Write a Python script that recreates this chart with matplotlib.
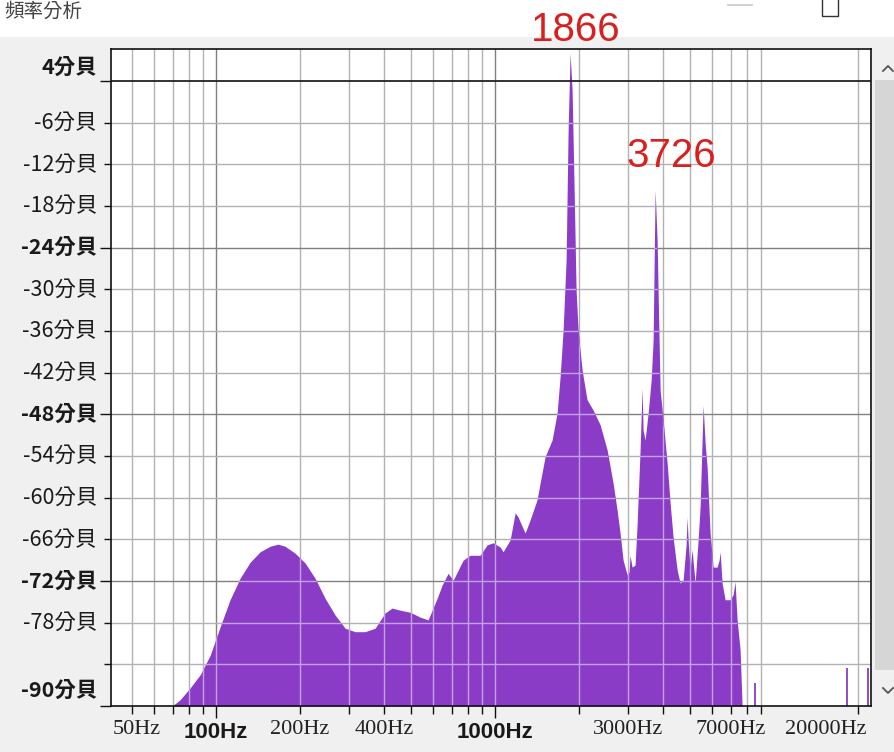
import matplotlib
matplotlib.use("Agg")
import matplotlib.pyplot as plt
import matplotlib.transforms as mtransforms
from matplotlib.patches import Rectangle
from matplotlib.lines import Line2D

# ---------------- data ----------------
freq_hz = [69.6, 74.3, 80.7, 87.7, 95.2, 103.4, 112.2, 121.9, 132.4, 143.8,
           156.1, 166.8, 176.7, 191.9, 208.4, 226.3, 245.9, 267.0, 290.0, 314.9,
           342.0, 371.4, 403.4, 427.3, 456.5, 495.8, 538.5, 575.2, 619.7, 645.7,
           678.6, 707.3, 768.1, 813.8, 883.6, 936.1, 983.6, 1042, 1068, 1132,
           1180, 1209, 1281, 1335, 1414, 1450, 1511, 1601, 1668, 1710,
           1753, 1797, 1827, 1857, 1888, 1920, 1951, 1984, 2050, 2136,
           2246, 2379, 2520, 2648, 2737, 2805, 2876, 2972, 3022, 3047,
           3097, 3175, 3228, 3309, 3365, 3393, 3449, 3536, 3625, 3685,
           3746, 3808, 3840, 3904, 4002, 4136, 4240, 4345, 4492, 4604,
           4719, 4838, 4878, 4918, 5000, 5083, 5211, 5342, 5431, 5521,
           5567, 5659, 5754, 5897, 6046, 6249, 6353, 6406, 6511, 6675,
           6955, 7129, 7248, 7369, 7554, 7680]
level_db = [-90.0, -89.1, -87.4, -85.5, -82.7, -78.6, -74.7, -71.6, -69.3, -67.8,
            -67.0, -66.7, -67.0, -68.0, -69.4, -71.6, -74.5, -76.9, -78.8, -79.3,
            -79.3, -78.8, -76.6, -75.9, -76.2, -76.5, -77.2, -77.6, -74.5, -72.6,
            -70.9, -71.9, -69.0, -68.3, -68.3, -66.8, -66.5, -67.1, -67.8, -66.1,
            -62.2, -62.8, -65.1, -63.2, -60.3, -57.9, -54.1, -51.7, -47.8, -42.6,
            -35.9, -25.8, -7.1, 4.0, -1.3, -15.7, -30.1, -35.9, -41.6, -45.9,
            -47.4, -49.5, -53.1, -57.9, -61.8, -65.1, -69.0, -71.1, -70.7, -68.3,
            -70.0, -69.7, -63.9, -53.1, -44.2, -50.3, -51.7, -47.8, -43.1, -37.3,
            -15.7, -22.9, -30.5, -44.5, -48.8, -55.0, -60.8, -65.7, -70.4, -72.3,
            -71.9, -66.8, -62.8, -66.1, -70.4, -67.5, -72.3, -66.1, -61.3, -51.7,
            -46.7, -52.1, -55.6, -65.1, -70.0, -70.0, -69.0, -67.8, -72.3, -74.7,
            -74.7, -74.0, -72.1, -77.6, -81.9, -90.0]
spike_freq = [8551, 18260, 21730]
spike_db = [-86.7, -84.5, -84.5]

peak_text = ["1866", "3726"]
peak_freq = [1866, 3726]
peak_text_db = [None, -10.7]

x_minor_ticks = [50, 60, 70, 80, 90, 200, 300, 400, 500, 600, 700, 800, 900,
                 2000, 3000, 4000, 5000, 6000, 7000, 8000, 9000, 20000]
x_major_ticks = [100, 1000]
x_plain_labels = {200: "200Hz", 400: "400Hz", 3000: "3000Hz", 7000: "7000Hz"}
x_bold_labels = {100: "100Hz", 1000: "1000Hz"}
x_left_label = "50Hz"
x_right_label = "20000Hz"

y_minor_ticks = [-6, -12, -18, -30, -36, -42, -54, -60, -66, -78, -84]
y_major_ticks = [0, -24, -48, -72, -90]
y_label_vals = [1.9, -6, -12, -18, -24, -30, -36, -42, -48, -54, -60, -66, -72, -78, -87.8]
y_label_text = ["4分貝", "-6分貝", "-12分貝", "-18分貝", "-24分貝", "-30分貝", "-36分貝",
                "-42分貝", "-48分貝", "-54分貝", "-60分貝", "-66分貝", "-72分貝",
                "-78分貝", "-90分貝"]
y_label_bold = [True, False, False, False, True, False, False, False, True,
                False, False, False, True, False, True]

title_text = "頻率分析"

# ---------------- styling ----------------
PURPLE = "#8a3cc6"
GRID_MINOR = "#b2b2b2"
GRID_MAJOR = "#808080"
GRID_IN = "#c4a2ea"
CJK = ["Noto Sans CJK TC", "DejaVu Sans"]

W, H = 895, 752
fig = plt.figure(figsize=(W / 100, H / 100), dpi=100, facecolor="#f0f0f0")
px = mtransforms.Affine2D().scale(1 / W, -1 / H).translate(0, 1) + fig.transFigure

# window chrome
fig.patches.append(Rectangle((0, 0), W, 37, transform=px, facecolor="white",
                             edgecolor="none", zorder=-10))
fig.patches.append(Rectangle((875, 80), 20, 590, transform=px, facecolor="#d6d6d6",
                             edgecolor="none", zorder=-10))
fig.text(4 / W, 1 - 11 / H, title_text, transform=fig.transFigure, family=CJK,
         fontsize=14, color="#444444", ha="left", va="center")
fig.lines.append(Line2D([728, 752], [5, 5], transform=px, color="#c8c8c8", lw=1.2))
fig.patches.append(Rectangle((822, -2), 16, 18, transform=px, facecolor="white",
                             edgecolor="#333333", lw=1.0))
fig.lines.append(Line2D([883, 888, 893], [71, 66, 71], transform=px, color="#555555", lw=1.3))
fig.lines.append(Line2D([883, 888, 893], [688, 693, 688], transform=px, color="#555555", lw=1.3))

ax = fig.add_axes([111 / W, 1 - 706 / H, 760 / W, 657 / H])
ax.set_zorder(1)
ax.set_facecolor("white")
ax.set_xscale("log")
ax.set_xlim(42, 22250)
ax.set_ylim(-90, 4.6)

poly = ax.fill_between(freq_hz, level_db, -90, color=PURPLE, lw=0, zorder=2)
ax.vlines(spike_freq, -90, spike_db, colors=PURPLE, lw=1.3, zorder=2)
clip_path = poly.get_paths()[0]

# grid lines: under the fill in grey, over the fill in lavender
for f in x_minor_ticks + x_major_ticks:
    c = GRID_MAJOR if f in x_major_ticks else GRID_MINOR
    ax.axvline(f, color=c, lw=1.0, zorder=1)
    ln = ax.axvline(f, color=GRID_IN, lw=1.0, zorder=3)
    ln.set_clip_path(clip_path, ax.transData)
for v in y_minor_ticks + y_major_ticks:
    if v == -90:
        continue
    if v == 0:
        ax.axhline(v, color="#222222", lw=1.3, zorder=4)
        continue
    c = GRID_MAJOR if v in y_major_ticks else GRID_MINOR
    ax.axhline(v, color=c, lw=1.0, zorder=1)
    ln = ax.axhline(v, color=GRID_IN, lw=1.0, zorder=3)
    ln.set_clip_path(clip_path, ax.transData)

for s in ax.spines.values():
    s.set_color("#111111")
    s.set_linewidth(1.2)
    s.set_zorder(5)

ax.set_xticks(x_major_ticks)
ax.set_xticks(x_minor_ticks, minor=True)
ax.set_yticks(y_major_ticks)
ax.set_yticks(y_minor_ticks, minor=True)
ax.set_xticklabels([])
ax.set_xticklabels([], minor=True)
ax.set_yticklabels([])
ax.set_yticklabels([], minor=True)
ax.tick_params(axis="x", which="major", length=8.6, width=1.0, color="#111111")
ax.tick_params(axis="x", which="minor", length=5.8, width=1.0, color="#111111")
ax.tick_params(axis="y", which="major", length=7.9, width=1.0, color="#111111")
ax.tick_params(axis="y", which="minor", length=5.0, width=1.0, color="#111111")

xt = ax.get_xaxis_transform()
for f, t in x_plain_labels.items():
    ax.annotate(t, xy=(f, 0), xycoords=xt, xytext=(0, -23), textcoords="offset pixels",
                ha="center", va="center", family="Liberation Serif", fontsize=16,
                color="#222222", annotation_clip=False)
for f, t in x_bold_labels.items():
    ax.annotate(t, xy=(f, 0), xycoords=xt, xytext=(0, -27), textcoords="offset pixels",
                ha="center", va="center", family="Liberation Sans", fontsize=16,
                fontweight="bold", color="#1a1a1a", annotation_clip=False)
ax.annotate(x_left_label, xy=(0, 0), xycoords="axes fraction", xytext=(2, -23),
            textcoords="offset pixels", ha="left", va="center", family="Liberation Serif",
            fontsize=16, color="#222222", annotation_clip=False)
ax.annotate(x_right_label, xy=(1, 0), xycoords="axes fraction", xytext=(-4, -23),
            textcoords="offset pixels", ha="right", va="center", family="Liberation Serif",
            fontsize=16, color="#222222", annotation_clip=False)

yt = ax.get_yaxis_transform()
for v, t, b in zip(y_label_vals, y_label_text, y_label_bold):
    ax.annotate(t, xy=(0, v), xycoords=yt, xytext=(-14, 0), textcoords="offset pixels",
                ha="right", va="center", family=CJK, fontsize=15.5,
                fontweight="bold" if b else "normal", color="#1a1a1a",
                annotation_clip=False)

# peak annotations
ax.annotate(peak_text[0], xy=(peak_freq[0], 1), xycoords=xt, xytext=(5, 19),
            textcoords="offset pixels", ha="center", va="center",
            family="Liberation Sans", fontsize=29, color="#d82020",
            annotation_clip=False, zorder=10)
ax.annotate(peak_text[1], xy=(peak_freq[1], peak_text_db[1]), xycoords="data",
            xytext=(17, -1), textcoords="offset pixels", ha="center", va="center",
            family="Liberation Sans", fontsize=29, color="#d82020",
            annotation_clip=False, zorder=10)

fig.savefig("out.png", dpi=100, facecolor=fig.get_facecolor())
